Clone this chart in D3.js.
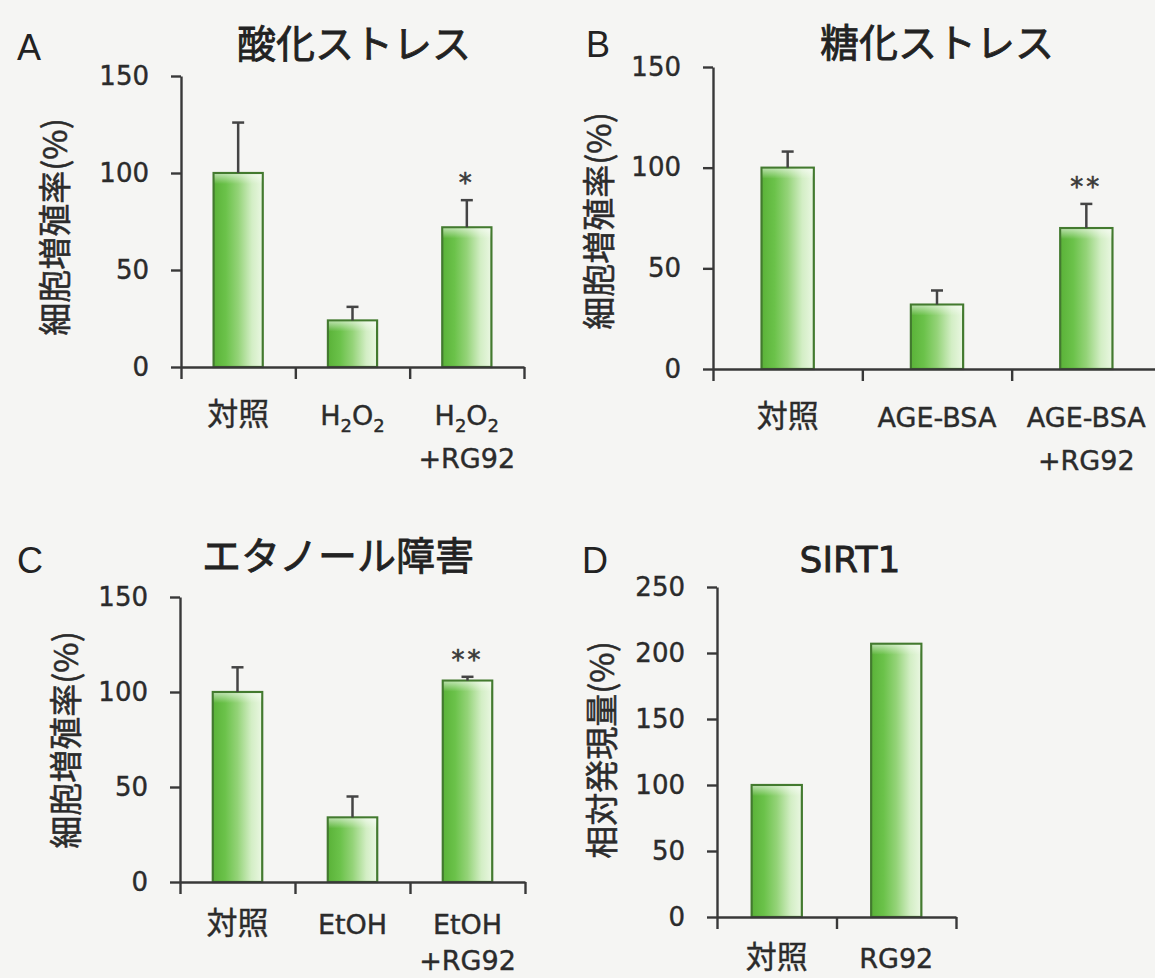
<!DOCTYPE html>
<html>
<head>
<meta charset="utf-8">
<script src="https://cdn.jsdelivr.net/npm/d3@7"></script>
<style>
  body { margin: 0; background: #f5f5f3; }
  svg { display: block; }
</style>
</head>
<body>
<div id="chart"></div>
<script>
// data
const catsA = ["対照", "H_2O_2", "H_2O_2\n+RG92"];
const valsA = [100, 24, 72];
const errA = [26, 7, 14];
const sigA = ["", "", "*"];

const catsB = ["対照", "AGE-BSA", "AGE-BSA\n+RG92"];
const valsB = [100, 32, 70];
const errB = [8, 7, 12];
const sigB = ["", "", "**"];

const catsC = ["対照", "EtOH", "EtOH\n+RG92"];
const valsC = [100, 34, 106];
const errC = [13, 11, 2];
const sigC = ["", "", "**"];

const catsD = ["対照", "RG92"];
const valsD = [100, 207];
const errD = [0, 0];
const sigD = ["", ""];

const ticks150 = [0, 50, 100, 150];
const ticks250 = [0, 50, 100, 150, 200, 250];
const letters = ["A", "B", "C", "D"];
const titles = ["酸化ストレス", "糖化ストレス", "エタノール障害", "SIRT1"];
const yTitles = ["細胞増殖率(%)", "細胞増殖率(%)", "細胞増殖率(%)", "相対発現量(%)"];

const width = 1155;
const height = 978;
const ink = "#2b2b2b";
const latin = "'DejaVu Sans', 'Noto Sans CJK JP', sans-serif";
const cjk = "'Noto Sans CJK JP', 'DejaVu Sans', sans-serif";

// layout of each panel (pixels)
const layout = [
    {x0: 181, x1: 524, yT: 76, yB: 367, pad: 0.57, letter: [17, 60], title: [354, 58], yLab: [53, 227], labOff: 58, gap: 43},
    {x0: 713, x1: 1161, yT: 67, yB: 369, pad: 0.65, letter: [586, 57], title: [937, 57], yLab: [597, 221], labOff: 58, gap: 43},
    {x0: 180, x1: 525, yT: 597, yB: 882, pad: 0.57, letter: [17, 573], title: [338, 570], yLab: [64, 740], labOff: 52, gap: 36},
    {x0: 717, x1: 956, yT: 587, yB: 917, pad: 0.58, letter: [582, 573], title: [850, 572], yLab: [600, 750], labOff: 51, gap: 43}
];

const panels = [
    {cats: catsA, vals: valsA, err: errA, sig: sigA, ticks: ticks150},
    {cats: catsB, vals: valsB, err: errB, sig: sigB, ticks: ticks150},
    {cats: catsC, vals: valsC, err: errC, sig: sigC, ticks: ticks150},
    {cats: catsD, vals: valsD, err: errD, sig: sigD, ticks: ticks250}
];

const svg = d3.select("#chart")
    .append("svg")
    .attr("width", width)
    .attr("height", height)
    .attr("viewBox", [0, 0, width, height]);

svg.append("rect")
    .attr("width", width)
    .attr("height", height)
    .attr("fill", "#f5f5f3");

//gradients for the bars
const defs = svg.append("defs");
const grad = defs.append("linearGradient")
    .attr("id", "barGrad")
    .attr("x1", 0).attr("x2", 1).attr("y1", 0).attr("y2", 0);
[[0, "#5ab238"], [0.25, "#6bc24a"], [0.5, "#94d378"], [0.78, "#d3eec5"], [1, "#eaf7e2"]]
    .forEach(s => grad.append("stop").attr("offset", s[0]).attr("stop-color", s[1]));
const hi = defs.append("linearGradient")
    .attr("id", "topGrad")
    .attr("x1", 0).attr("x2", 0).attr("y1", 0).attr("y2", 1);
hi.append("stop").attr("offset", 0).attr("stop-color", "#ffffff").attr("stop-opacity", 0.55);
hi.append("stop").attr("offset", 1).attr("stop-color", "#ffffff").attr("stop-opacity", 0);

function drawLabel(g, x, y, str, gap) {
    str.split("\n").forEach((line, li) => {
        const isCJK = /[\u3000-\u9fff]/.test(line);
        const t = g.append("text")
            .attr("x", x)
            .attr("y", y + li * gap)
            .attr("text-anchor", "middle")
            .attr("font-family", isCJK ? cjk : latin)
            .attr("font-size", isCJK ? "31px" : "27px")
            .attr("fill", ink)
            .attr("stroke", ink)
            .attr("stroke-width", 0.4);
        let shifted = false;
        line.split(/(_\d)/).filter(s => s).forEach(seg => {
            if (seg.startsWith("_")) {
                t.append("tspan").attr("dy", shifted ? 0 : 7).attr("font-size", "18px").text(seg.slice(1));
                shifted = true;
            } else {
                t.append("tspan").attr("dy", shifted ? -7 : 0).text(seg);
                shifted = false;
            }
        });
    });
}

panels.forEach((p, i) => {
    const L = layout[i];
    const g = svg.append("g");
    const n = p.cats.length;

    const yScale = d3.scaleLinear()
        .domain([0, d3.max(p.ticks)])
        .range([L.yB, L.yT]);
    const xEdge = d3.scaleLinear()
        .domain([0, n])
        .range([L.x0, L.x1]);
    const xBand = d3.scaleBand()
        .domain(d3.range(n))
        .range([L.x0, L.x1])
        .paddingInner(L.pad)
        .paddingOuter(L.pad / 2);

    //bars
    p.vals.forEach((v, k) => {
        g.append("rect")
            .attr("x", xBand(k))
            .attr("y", yScale(v))
            .attr("width", xBand.bandwidth())
            .attr("height", L.yB - yScale(v))
            .attr("fill", "url(#barGrad)")
            .attr("stroke", "#437a2f")
            .attr("stroke-width", 2.2);
        g.append("rect")
            .attr("x", xBand(k) + 1)
            .attr("y", yScale(v) + 1)
            .attr("width", xBand.bandwidth() - 2)
            .attr("height", 10)
            .attr("fill", "url(#topGrad)");
    });

    //error bars
    p.err.forEach((e, k) => {
        if (!e) return;
        const cx = xBand(k) + xBand.bandwidth() / 2;
        const top = yScale(p.vals[k] + e);
        g.append("line")
            .attr("x1", cx).attr("x2", cx)
            .attr("y1", yScale(p.vals[k])).attr("y2", top)
            .attr("stroke", "#444").attr("stroke-width", 2.5);
        g.append("line")
            .attr("x1", cx - 6).attr("x2", cx + 6)
            .attr("y1", top).attr("y2", top)
            .attr("stroke", "#444").attr("stroke-width", 2.5);
    });

    //significance marks
    p.sig.forEach((s, k) => {
        if (!s) return;
        g.append("text")
            .attr("x", xBand(k) + xBand.bandwidth() / 2)
            .attr("y", yScale(p.vals[k] + p.err[k]) - 8)
            .attr("text-anchor", "middle")
            .attr("font-family", latin)
            .attr("font-size", "26px")
            .attr("letter-spacing", "3px")
            .attr("fill", "#3a3a3a")
            .attr("stroke", "#3a3a3a")
            .attr("stroke-width", 0.6)
            .text(s);
    });

    //axes
    const yAxis = g.append("g")
        .attr("transform", `translate(${L.x0},0)`)
        .call(d3.axisLeft(yScale).tickValues(p.ticks).tickSize(10).tickSizeOuter(0).tickPadding(22));
    const xAxis = g.append("g")
        .attr("transform", `translate(0,${L.yB})`)
        .call(d3.axisBottom(xEdge).tickValues(d3.range(n + 1)).tickSize(12).tickSizeOuter(0).tickFormat(""));
    [yAxis, xAxis].forEach(a => {
        a.selectAll("path, line").attr("stroke", "#383838").attr("stroke-width", 2.4);
        a.selectAll("text")
            .attr("font-family", latin)
            .attr("font-size", "26px")
            .attr("fill", ink)
            .attr("stroke", ink)
            .attr("stroke-width", 0.4);
    });

    //category labels
    p.cats.forEach((c, k) => {
        drawLabel(g, xBand(k) + xBand.bandwidth() / 2, L.yB + L.labOff, c, L.gap);
    });

    //y title
    g.append("text")
        .attr("transform", `translate(${L.yLab[0]},${L.yLab[1]}) rotate(-90)`)
        .attr("text-anchor", "middle")
        .attr("dominant-baseline", "central")
        .attr("font-family", cjk)
        .attr("font-size", "33px")
        .attr("fill", ink)
        .attr("stroke", ink)
        .attr("stroke-width", 0.5)
        .text(yTitles[i]);

    //title and letter
    g.append("text")
        .attr("x", L.title[0])
        .attr("y", L.title[1])
        .attr("text-anchor", "middle")
        .attr("font-family", i === 3 ? latin : cjk)
        .attr("font-size", i === 3 ? "36px" : "39px")
        .attr("fill", "#222")
        .attr("stroke", "#222")
        .attr("stroke-width", 0.8)
        .text(titles[i]);
    g.append("text")
        .attr("x", L.letter[0])
        .attr("y", L.letter[1])
        .attr("font-family", "'Liberation Sans', Arial, sans-serif")
        .attr("font-size", "36px")
        .attr("fill", "#222")
        .text(letters[i]);
});
</script>
</body>
</html>
